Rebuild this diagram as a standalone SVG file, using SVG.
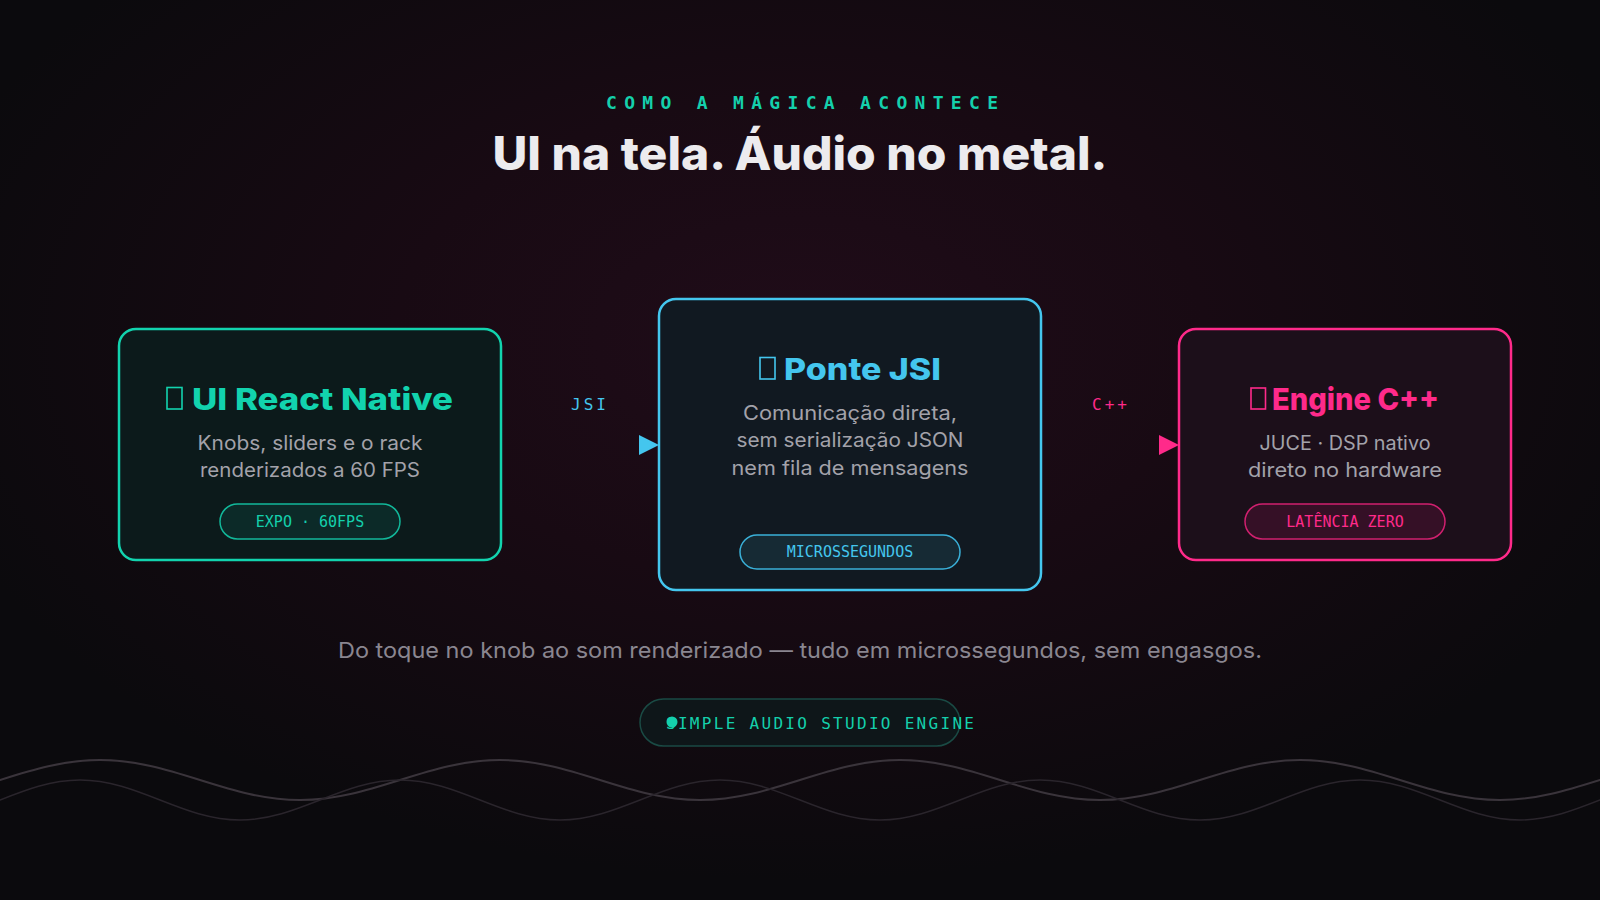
<svg xmlns="http://www.w3.org/2000/svg" width="1600" height="900" viewBox="0 0 1600 900">
  <defs>
    <radialGradient id="bg" gradientUnits="userSpaceOnUse" cx="800" cy="340" r="900" gradientTransform="translate(800 340) scale(1 0.6) translate(-800 -340)">
      <stop offset="0" stop-color="#200c19"/>
      <stop offset="0.45" stop-color="#180a13"/>
      <stop offset="1" stop-color="#0b0a0d"/>
    </radialGradient>
    <marker id="arrBlue" viewBox="0 0 10 10" refX="10" refY="5" markerWidth="21" markerHeight="20" markerUnits="userSpaceOnUse" orient="auto">
      <path d="M0 0 L10 5 L0 10 Z" fill="#44c6ee"/>
    </marker>
    <marker id="arrPink" viewBox="0 0 10 10" refX="10" refY="5" markerWidth="21" markerHeight="20" markerUnits="userSpaceOnUse" orient="auto">
      <path d="M0 0 L10 5 L0 10 Z" fill="#ff2a8a"/>
    </marker>
  </defs>
  <style>
    .sans { font-family: "Inter", "Noto Sans", "Liberation Sans", sans-serif; }
    .mono { font-family: "DejaVu Sans Mono", "Liberation Mono", monospace; }
    .ctitle { font-size: 30px; font-weight: 800; }
    .desc { font-size: 19.5px; fill: #a3a2aa; text-anchor: middle; }
    .badge { font-size: 15px; text-anchor: middle; }
    .card { stroke-width: 2.5; }
    .tofu { fill: none; stroke-width: 1.6; }
  </style>
  <rect x="0" y="0" width="1600" height="900" fill="url(#bg)"/>

  <!-- waves -->
  <path d="M -300 760 C -227.2 760 -172.8 800 -100 800 S 27.2 760 100 760 S 227.2 800 300 800 S 427.2 760 500 760 S 627.2 800 700 800 S 827.2 760 900 760 S 1027.2 800 1100 800 S 1227.2 760 1300 760 S 1427.2 800 1500 800 S 1627.2 760 1700 760" fill="none" stroke="#3a343b" stroke-width="2"/>
  <path d="M -240 780 C -181.7 780 -138.3 820 -80 820 S 21.7 780 80 780 S 181.7 820 240 820 S 341.7 780 400 780 S 501.7 820 560 820 S 661.7 780 720 780 S 821.7 820 880 820 S 981.7 780 1040 780 S 1141.7 820 1200 820 S 1301.7 780 1360 780 S 1461.7 820 1520 820 S 1621.7 780 1680 780" fill="none" stroke="#2a252c" stroke-width="1.5"/>

  <!-- header -->
  <text class="mono" x="802" y="109" font-size="18" font-weight="700" fill="#14d0ac" text-anchor="middle" textLength="392">COMO A MÁGICA ACONTECE</text>
  <text class="sans" x="800" y="170" font-size="46" font-weight="800" fill="#ecebee" text-anchor="middle" textLength="615" lengthAdjust="spacingAndGlyphs">UI na tela. Áudio no metal.</text>

  <!-- connectors -->
  <g id="connectors">
    <path d="M 501 445 L 659 445" fill="none" stroke="none" marker-end="url(#arrBlue)"/>
    <text class="mono" x="590" y="410" font-size="16" fill="#44c6ee" text-anchor="middle" letter-spacing="3">JSI</text>
    <path d="M 1041 445 L 1179 445" fill="none" stroke="none" marker-end="url(#arrPink)"/>
    <text class="mono" x="1111" y="410" font-size="16" fill="#ff2a8a" text-anchor="middle" letter-spacing="3">C++</text>
  </g>

  <!-- card 1 -->
  <g id="node-ui">
    <rect class="card" x="119" y="329" width="382" height="231" rx="17" fill="#0c1a1b" stroke="#12d3ae"/>
    <rect class="tofu" x="167" y="387.5" width="15" height="21.5" stroke="#12d3ae"/>
    <text class="sans ctitle" x="192" y="410" fill="#12d3ae" textLength="261" lengthAdjust="spacingAndGlyphs">UI React Native</text>
    <text class="sans desc" x="310" y="450" textLength="225" lengthAdjust="spacingAndGlyphs">Knobs, sliders e o rack</text>
    <text class="sans desc" x="310" y="477" textLength="220" lengthAdjust="spacingAndGlyphs">renderizados a 60 FPS</text>
    <rect x="220" y="504" width="180" height="35" rx="17.5" fill="#0c2a28" stroke="#12b89a" stroke-width="1.5"/>
    <text class="mono badge" x="310" y="527" fill="#14d0ac">EXPO · 60FPS</text>
  </g>

  <!-- card 2 -->
  <g id="node-jsi">
    <rect class="card" x="659" y="299" width="382" height="291" rx="17" fill="#111921" stroke="#44c6ee"/>
    <rect class="tofu" x="760" y="357.5" width="15" height="21.5" stroke="#44c6ee"/>
    <text class="sans ctitle" x="784" y="380" fill="#44c6ee" textLength="157" lengthAdjust="spacingAndGlyphs">Ponte JSI</text>
    <text class="sans desc" x="850" y="420" textLength="214" lengthAdjust="spacingAndGlyphs">Comunicação direta,</text>
    <text class="sans desc" x="850" y="447" textLength="227" lengthAdjust="spacingAndGlyphs">sem serialização JSON</text>
    <text class="sans desc" x="850" y="475" textLength="237" lengthAdjust="spacingAndGlyphs">nem fila de mensagens</text>
    <rect x="740" y="535" width="220" height="34" rx="17" fill="#162a34" stroke="#3ab0d8" stroke-width="1.5"/>
    <text class="mono badge" x="850" y="557" fill="#44c6ee">MICROSSEGUNDOS</text>
  </g>

  <!-- card 3 -->
  <g id="node-engine">
    <rect class="card" x="1179" y="329" width="332" height="231" rx="17" fill="#1c0f1a" stroke="#ff2a8a"/>
    <rect class="tofu" x="1251" y="388" width="14.5" height="21" stroke="#ff2a8a"/>
    <text class="sans ctitle" x="1272" y="410" fill="#ff2a8a" textLength="167" lengthAdjust="spacingAndGlyphs">Engine C++</text>
    <text class="sans desc" x="1345" y="450" textLength="171" lengthAdjust="spacingAndGlyphs">JUCE · DSP nativo</text>
    <text class="sans desc" x="1345" y="477" textLength="194" lengthAdjust="spacingAndGlyphs">direto no hardware</text>
    <rect x="1245" y="504" width="200" height="35" rx="17.5" fill="#351026" stroke="#d0206f" stroke-width="1.5"/>
    <text class="mono badge" x="1345" y="527" fill="#ff2a8a">LATÊNCIA ZERO</text>
  </g>

  <!-- footer -->
  <text class="sans" x="800" y="658" font-size="22" fill="#8a8690" text-anchor="middle" textLength="924" lengthAdjust="spacingAndGlyphs">Do toque no knob ao som renderizado — tudo em microssegundos, sem engasgos.</text>
  <g id="brand">
    <rect x="640" y="699" width="320" height="47" rx="23.5" fill="#0e1619" stroke="#1a4a44" stroke-width="1.5"/>
    <circle cx="672" cy="722" r="5.5" fill="#14d0ac"/>
    <text class="mono" x="666" y="729" font-size="16" fill="#14d0ac" textLength="308">SIMPLE AUDIO STUDIO ENGINE</text>
  </g>
</svg>
